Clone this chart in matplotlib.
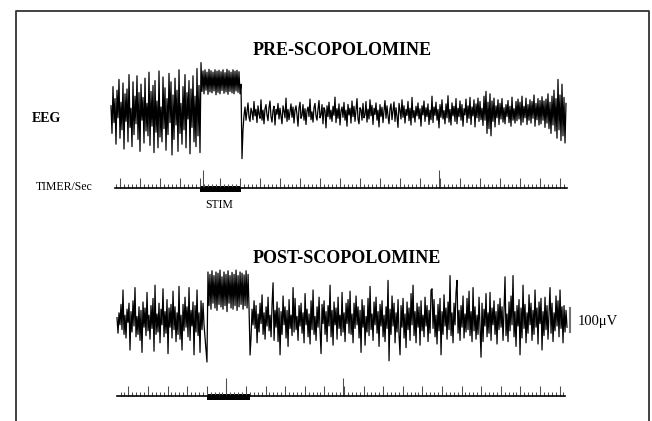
"""
EEG traces before and after scopolomine, with stimulus timer
"""

import numpy as np
import matplotlib.pyplot as plt

W, H = 652, 421
UV_PX = 0.24   # pixels per microvolt
SERIF = 'Liberation Serif'

# EEG samples in microvolts, one per sample step
pre_rest = [
    30, -85, 110, -40, 60, -130, 95, -20, 140, -105, 45, -70, 125, -150, 80, -35, 100, -120, 160, -60,
    20, -140, 130, -90, 70, -45, 155, -110, 85, -160, 120, -30, 65, -125, 145, -75, 40, -95, 170, -135,
    90, -55, 115, -165, 135, -80, 50, -145, 175, -100, 25, -120, 150, -65, 105, -155, 60, -90, 165, -40,
    130, -175, 75, -110, 145, -50, 95, -160, 180, -85, 40, -130, 110, -70, 160, -145, 85, -25, 135, -170,
    100, -60, 155, -120, 70, -140, 185, -95, 115]
pre_stim = [
    -165, 210, 90, 175, 80, 180, 95, 170, 78, 182, 88, 176, 84, 170, 92, 180, 76, 174, 86, 178,
    80, 172, 94, 180, 82, 168, 88, 182, 78, 176, 90, 170, 84, 180, 80, 174, 92, 178, 86, 172,
    80, 120]
pre_after = [
    -190, -70, -10, 25, -30, 8, 42, -18, -35, 20, 5, -28, 48, -12, 15, -40, 30, -5, -22, 55, -30, 12, -45, 18, 35,
    -8, -32, 22, 50, -15, -38, 10, 28, -50, 15, -5, 40, -25, 20, -12, -45, 30, 8, -20, 62, -35, 15, -28, 5, 38,
    -18, 25, -42, 12, 30, -8, -55, 20, 45, -22, -10, 35, -30, 18, -48, 10, 25, -15, 58, -28, 5, -38, 22, 40, -12,
    -30, 15, 52, -20, -8, 35, -45, 22, 10, -62, 30, -15, 45, -25, 12, -35, 28, -10, 66, -40, 18, -22, 38, -50, 8,
    25, -18, 44, -30, 12, -55, 36, -8, 20, -42, 50, -15, 28, -35, 10, 60, -25, -45, 22, 14, -30, 40, -20, -8, 48,
    -38, 16, -25, 55, -12, 32, -48, 20, -6, 42, -30, 12, -58, 35, -15, 24, -40, 10, 52, -22, 30, -12, -45, 18, 38,
    -28, 8, 46, -35, 22, -15, -60, 40, 12, -25, 55, -18, 30, -42, 15, -10, 48, -32, 20, -50, 65, -20, 10, -38, 28,
    -12, 42, -25, 18, -55, 30, -8, 50, -35, 22, -15, 38, -48, 12, -28, 70, -40, 25, -10, 45, -30, 15, -62, 35, -18,
    55, -25, 10, -45, 38, -20, 72, -38, 15, -50, 42, -12, 28, -35, 60, -45, 20, -15, 50, -30, 35, -55, 18, -8, 58,
    -40, 30, -22, 65, -48, 25, -12, 55, -58, 38, -20, 62, -35, 48, -28, 20, -52, 70, -30, 90, -85, 45, -65, 80, -95,
    50, -35, 62, -58, 30, -20, 55, -48, 40, -25, 60, -38, 22, -45, 35, -15, 52, -40, 28, -55, 66, -30, 18, -42, 48,
    -32, 58, -25, 45, -50, 70, -38, 28, -20, 62, -48, 35, -30, 55, -42, 48, -22, 75, -55, 40, -28, 60, -50, 52, -45,
    68, -30, 50, -60, 58, -42, 80, -65, 45, -85, 70, -50, 95, -75, 60, -105, 140, -70, 75, -115, 120, -95, 65, -125, 40]

post_rest = [
    10, -55, 30, -20, 65, -40, 125, -60, 20, -75, 45, -10, 70, -125, 35, -50, 80, -25, 135, -70,
    15, -60, 55, -85, 40, -135, 75, -30, 50, -65, 115, -45, 20, -80, 60, -35, 90, -130, 145, -60,
    25, -50, 70, -95, 45, -20, 130, -70, 35, -55, 85, -140, 50, -30, 65, -75, 120, -40, 55, -90,
    30, -60, 140, -80, 20, -125, 65, -45, 95, -30, 55, -70, 135, -85, 40, -25, 75, -145, 60, -50,
    125, -65, 30, -135, 80, -40, 70, -20]
post_stim = [
    -175, 200, 60, 190, 45, 205, 70, 185, 50, 200, 40, 195, 65, 208, 55, 180, 45, 200, 60, 190,
    35, 205, 70, 185, 50, 198, 45, 190, 60, 208, 40, 185, 55, 200, 65, 195, 45, 188, 60, 205,
    50, 190, 40, -146]
post_after = [
    -70, 45, -20, 80, -35, 60, -95, 25, -50, 70, -15, 105, -60, 30, -80, 55, -25, 95, -45, 20, -70, 65, 155, -85, 40,
    -30, 75, -90, 50, -145, 35, -60, 100, -20, 55, -75, 40, -110, 85, -35, 20, -65, 135, -50, 90, -40, 15, -85, 60, -25,
    70, -55, 30, -95, 110, -20, 45, -70, 25, -100, 80, -40, 125, -60, 15, -85, 55, -30, 95, -45, -140, 65, -15, 80, -60,
    35, -90, 60, -25, 145, -70, 40, -105, 75, -20, 50, -80, 95, -35, 20, -65, 115, -50, 30, -90, 70, -15, 85, -55, 120,
    -60, 25, -95, 70, -35, 100, -20, 55, -75, 40, -135, 85, -30, 60, -105, 15, -50, 90, -65, 140, -40, 25, -85, 75, -20,
    95, -55, 35, -110, 65, -25, 80, -70, 20, -90, 55, -35, 165, -170, 45, -60, 100, -25, 70, -95, 30, -50, 85, -65, -145,
    60, -30, 90, -75, 25, -115, 75, -40, 50, -85, 110, -20, 145, -65, 35, -95, 70, -30, 55, -105, 80, -45, 20, -70, 95,
    -25, 60, -90, 40, -55, 125, 130, -35, 85, -70, 20, -100, 65, -45, 90, -145, 35, -60, 105, -25, 50, -80, 75, -40, 185,
    -65, 30, -95, 70, -20, 115, 165, -55, 40, -85, 60, -30, 100, -75, 25, -50, 90, -40, 120, -65, 35, -90, 135, -45, 55,
    -80, 20, -60, 95, -35, -155, 70, -90, 45, -25, 110, -70, 30, -55, 115, -85, 50, -20, 80, -60, 35, -100, 65, -40, 90,
    -30, 55, -85, 40, 180, -65, 25, -90, 75, -45, 100, -20, 185, -70, 35, -110, 60, -25, 85, -145, 50, -75, 145, -35, 65,
    -95, 30, -55, 105, -20, 70, -85, 40, -60, 125, -30, 50, -100, 75, -15, 90, -125, 35, -65, 95, -40, 60, -80, 25, 135,
    -55, 70, -90, 30, -45, 100, -25, 80, -70, 125, -35, 55, -95, 60, -50, 40, -30]

# segment times in seconds: rest start/end, stim on/off, after start/end
pre_times = [0.0, 4.4, 4.45, 6.5, 6.55, 22.75]
post_times = [0.0, 4.44, 4.59, 6.79, 6.84, 22.96]

# timer: start, end, first whole-second mark, long marks (s)
pre_timer = [0.2, 22.8, 0.45]
pre_tall = [4.6, 16.4]
post_timer = [0.0, 22.86, 1.58]
post_tall = [5.56, 11.53]

fig = plt.figure(figsize=(W / 100, H / 100), dpi=100)

bg = fig.add_axes([0, 0, 1, 1])
bg.set_xlim(0, W)
bg.set_ylim(H, 0)
bg.axis('off')


def panel(left, right, center, half, t0, pps, unit_px):
    ax = fig.add_axes([left / W, (H - center - half) / H, (right - left) / W, 2 * half / H])
    ax.set_xlim((left - t0) / pps, (right - t0) / pps)
    ax.set_ylim(-half / unit_px, half / unit_px)
    ax.axis('off')
    ax.patch.set_visible(False)
    return ax


def draw_eeg(ax, times, rest, stim, after):
    t = np.concatenate([np.linspace(times[0], times[1], len(rest)),
                        np.linspace(times[2], times[3], len(stim)),
                        np.linspace(times[4], times[5], len(after))])
    v = np.concatenate([rest, stim, after])
    ax.plot(t, v, color='black', lw=0.9)


def draw_timer(ax, timer, tall, stim_on, stim_off):
    start, end, first = timer
    k = np.arange(int(np.ceil((start - first) / 0.2)), int((end - first) / 0.2) + 1)
    ticks = first + 0.2 * k
    heights = np.where(k % 5 == 0, 10, 4.5)
    ax.vlines(ticks, 0, heights, color='0.3', lw=0.75)
    ax.vlines(tall, 0, 18, color='0.3', lw=0.75)
    ax.plot([start, end], [0, 0], color='black', lw=1.2)
    ax.fill_between([stim_on, stim_off], -3.5, 2.5, color='black', lw=0)


ax_pre = panel(100, 590, 113, 70, 111, 20, UV_PX)
draw_eeg(ax_pre, pre_times, pre_rest, pre_stim, pre_after)
ax_pre_t = panel(100, 590, 188, 25, 111, 20, 1)
draw_timer(ax_pre_t, pre_timer, pre_tall, pre_times[2], pre_times[3])

ax_post = panel(100, 590, 320, 70, 117, 19.6, UV_PX)
draw_eeg(ax_post, post_times, post_rest, post_stim, post_after)
ax_post.plot([23.11, 23.11], [-50, 50], color='0.45', lw=1.5)
ax_post_t = panel(100, 590, 396, 25, 117, 19.6, 1)
draw_timer(ax_post_t, post_timer, post_tall, post_times[2], post_times[3])

# frame (open at the bottom)
bg.plot([15.5, 15.5, 649, 649], [H, 11, 11, H], color='#333333', lw=1.3)

bg.text(342, 55, 'PRE-SCOPOLOMINE', ha='center', va='baseline', fontsize=13,
        fontweight='bold', family=SERIF)
bg.text(346.5, 263, 'POST-SCOPOLOMINE', ha='center', va='baseline', fontsize=13,
        fontweight='bold', family=SERIF)
bg.text(32, 122, 'EEG', ha='left', va='baseline', fontsize=10, fontweight='bold', family=SERIF)
bg.text(36, 190.5, 'TIMER/Sec', ha='left', va='baseline', fontsize=8.5, family=SERIF)
bg.text(219, 208, 'STIM', ha='center', va='baseline', fontsize=8.5, family=SERIF)
bg.text(578, 325, '100\u03bcV', ha='left', va='baseline', fontsize=10.5, family=SERIF)

plt.savefig('out.png', dpi=100)
